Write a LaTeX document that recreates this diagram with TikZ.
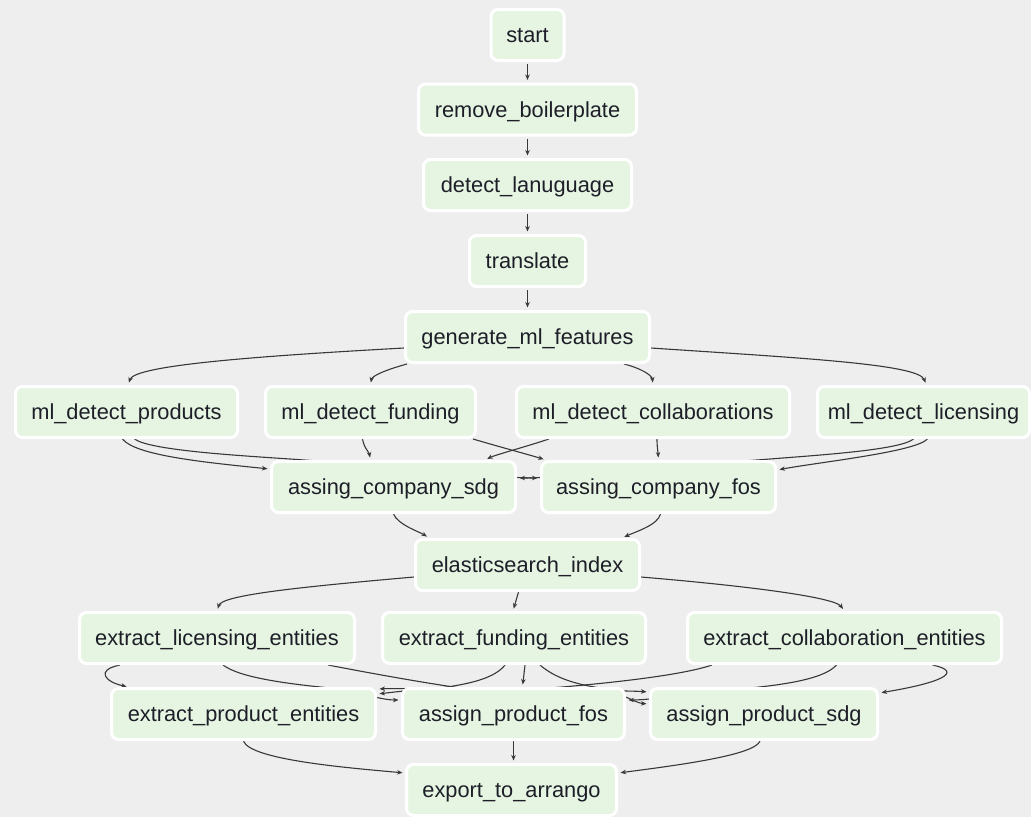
\documentclass[tikz,border=0pt]{standalone}
\usepackage{fontspec}
\setmainfont{Liberation Sans}
\usetikzlibrary{arrows.meta,calc}
\pgfdeclarelayer{canvas}
\pgfdeclarelayer{background}
\pgfsetlayers{canvas,background,main}
\definecolor{bg}{HTML}{EEEEEE}
\definecolor{nodefill}{HTML}{E5F5E2}
\definecolor{edgecol}{HTML}{383838}
\definecolor{txt}{HTML}{1E1E28}
\tikzset{
  task/.style={draw=white, line width=3pt, fill=nodefill, rounded corners=7pt,
    minimum height=51pt, inner xsep=0pt, inner ysep=0pt, text=txt,
    text height=15pt, text depth=0pt,
    font=\fontsize{21.8}{24}\selectfont},
  edge/.style={draw=edgecol, line width=1.1pt, -{Stealth[length=5.5pt,width=4.5pt]},
    shorten >=2.5pt},
}
\begin{document}
\begin{tikzpicture}[x=1pt,y=-1pt]
\begin{pgfonlayer}{canvas}
\fill[bg] (0,0) rectangle (1031,817);
\end{pgfonlayer}
\useasboundingbox (0,0) rectangle (1031,817);

\node[task, minimum width=73pt]  (start)  at (527.5,35)  {start};
\node[task, minimum width=218pt] (remove) at (527.5,109.5) {remove\_boilerplate};
\node[task, minimum width=208pt] (detect) at (527.5,185) {detect\_lanuguage};
\node[task, minimum width=116pt] (trans)  at (527.5,261) {translate};
\node[task, minimum width=244pt] (gen)    at (527.5,337) {generate\_ml\_features};

\node[task, minimum width=222pt] (mlprod) at (126.5,412) {ml\_detect\_products};
\node[task, minimum width=210pt] (mlfund) at (370.5,412) {ml\_detect\_funding};
\node[task, minimum width=273pt] (mlcoll) at (653,412)   {ml\_detect\_collaborations};
\node[task, minimum width=212pt] (mllic)  at (923.5,412) {ml\_detect\_licensing};

\node[task, minimum width=244pt] (sdg) at (393.5,487) {assing\_company\_sdg};
\node[task, minimum width=234pt] (fos) at (658.5,487) {assing\_company\_fos};

\node[task, minimum width=224pt] (elastic) at (527.5,565) {elasticsearch\_index};

\node[task, minimum width=275pt] (exlic)  at (217,638)   {extract\_licensing\_entities};
\node[task, minimum width=263pt] (exfund) at (514,638)   {extract\_funding\_entities};
\node[task, minimum width=314pt] (excoll) at (844.5,638) {extract\_collaboration\_entities};

\node[task, minimum width=264pt] (exprod) at (243.5,714) {extract\_product\_entities};
\node[task, minimum width=222pt] (apfos)  at (513.5,714) {assign\_product\_fos};
\node[task, minimum width=227pt] (apsdg)  at (764,714)   {assign\_product\_sdg};

\node[task, minimum width=210pt] (export) at (511.5,790) {export\_to\_arrango};

\begin{pgfonlayer}{background}
% top chain
\draw[edge, shorten <=2pt] (start.south) -- (remove.north);
\draw[edge, shorten <=2pt] (remove.south) -- (detect.north);
\draw[edge, shorten <=2pt] (detect.south) -- (trans.north);
\draw[edge, shorten <=2pt] (trans.south) -- (gen.north);
% generate -> ml
\draw[edge] ($(gen.west)+(0,11)$) .. controls (260,356) and (135,365) .. ($(mlprod.north)+(1.5,0)$);
\draw[edge] ($(gen.south west)+(3,0)$) .. controls (385,370) and (372,376) .. (mlfund.north);
\draw[edge] ($(gen.south east)+(-27,0)$) .. controls (640,368) and (652,375) .. (mlcoll.north);
\draw[edge] ($(gen.east)+(0,11)$) .. controls (800,358) and (918,364) .. ($(mllic.north)+(3,0)$);
% ml -> company
\draw[edge] ($(mlprod.south)+(-4,0)$) .. controls (135,455) and (200,462) .. ($(sdg.west)+(0,-18)$);
\draw[edge] ($(mlprod.south)+(8,0)$) .. controls (150,450) and (230,455) .. (290,459)
  .. controls (420,468) and (500,478) .. ($(fos.west)+(0,-9)$);
\draw[edge] ($(mlfund.south)+(-8,0)$) .. controls (364,448) and (369,452) .. ($(sdg.north)+(-23,0)$);
\draw[edge] ($(mlfund.south east)+(-4,0)$) .. controls (500,447) and (530,455) .. ($(fos.north west)+(6,0)$);
\draw[edge] ($(mlcoll.south west)+(34,0)$) .. controls (525,447) and (495,455) .. ($(sdg.north east)+(-32,0)$);
\draw[edge] ($(mlcoll.south)+(4,0)$) .. controls (657,447) and (658,452) .. (fos.north);
\draw[edge] ($(mllic.south)+(4,0)$) .. controls (915,452) and (820,462) .. ($(fos.east)+(0,-17)$);
\draw[edge] ($(mllic.south)+(-10,0)$) .. controls (900,450) and (820,455) .. (770,459)
  .. controls (650,468) and (560,478) .. ($(sdg.east)+(0,-9)$);
% company -> elastic
\draw[edge] (sdg.south) .. controls (398,525) and (420,532) .. ($(elastic.north west)+(15,0)$);
\draw[edge] ($(fos.south)+(2,0)$) .. controls (658,525) and (635,532) .. ($(elastic.north east)+(-19,0)$);
% elastic -> extract
\draw[edge] ($(elastic.west)+(0,12)$) .. controls (300,587) and (222,595) .. (exlic.north);
\draw[edge] ($(elastic.south)+(-9,0)$) -- ($(exfund.north)+(-1,0)$);
\draw[edge] ($(elastic.east)+(0,12)$) .. controls (760,587) and (835,598) .. (excoll.north);
% extract -> assign
\draw[edge] ($(exlic.south west)+(42,0)$) .. controls (95,670) and (105,682) .. ($(exprod.north west)+(19,0)$);
\draw[edge] ($(exlic.south)+(6,0)$) .. controls (240,678) and (290,684) .. (330,688)
  .. controls (360,692) and (380,700) .. ($(apfos.west)+(0,-14)$);
\draw[edge] ($(exlic.south east)+(-28,0)$) .. controls (380,675) and (420,682) .. (460,688)
  .. controls (560,692) and (620,690) .. ($(apsdg.west)+(0,-22)$);
\draw[edge] ($(exfund.south west)+(124,0)$) .. controls (495,678) and (470,684) .. (440,688)
  .. controls (410,690) and (395,692) .. ($(exprod.east)+(0,-20)$);
\draw[edge] ($(exfund.south)+(11,0)$) -- ($(apfos.north)+(9,0)$);
\draw[edge] ($(exfund.south)+(26,0)$) .. controls (555,678) and (575,684) .. (600,688)
  .. controls (620,692) and (635,703) .. ($(apsdg.west)+(0,-10)$);
\draw[edge] ($(excoll.south west)+(26,0)$) .. controls (680,676) and (600,684) .. (550,688)
  .. controls (450,690) and (400,688) .. ($(exprod.east)+(0,-25)$);
\draw[edge] ($(excoll.south)+(-8,0)$) .. controls (825,678) and (790,684) .. (750,688)
  .. controls (680,695) and (650,700) .. ($(apfos.east)+(0,-14)$);
\draw[edge] ($(excoll.south)+(88,0)$) .. controls (965,672) and (940,683) .. ($(apsdg.east)+(0,-21)$);
% assign -> export
\draw[edge] (exprod.south) .. controls (250,760) and (350,768) .. ($(export.west)+(0,-17)$);
\draw[edge] (apfos.south) -- ($(export.north)+(2,0)$);
\draw[edge] ($(apsdg.south)+(-4,0)$) .. controls (755,755) and (680,765) .. ($(export.east)+(0,-17)$);
\end{pgfonlayer}
\end{tikzpicture}
\end{document}
